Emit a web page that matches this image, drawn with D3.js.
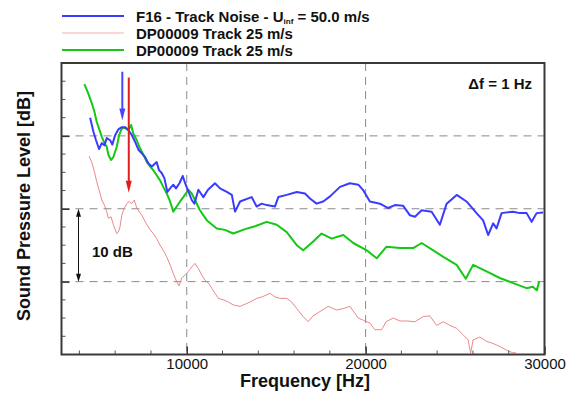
<!DOCTYPE html>
<html><head><meta charset="utf-8">
<script src="https://cdn.jsdelivr.net/npm/d3@7"></script>
<style>
html,body{margin:0;padding:0;background:#fff;}
svg{display:block;font-family:"Liberation Sans",Arial,sans-serif;}
</style></head>
<body><svg id="c" width="571" height="394"></svg>
<script>
// ---- data ----
const xTicks = [10000, 20000, 30000];
const xMinorTicks = [4000,6000,8000,12000,14000,16000,18000,22000,24000,26000,28000];
const yGrid = [40, 50, 60];
const yMinorTicks = [32.5,35,37.5,42.5,45,47.5,52.5,55,57.5,62.5,65,67.5];
const legendLabels = ["F16 - Track Noise - U", "DP00009 Track 25 m/s", "DP00009 Track 25 m/s"];

const blueFreq = [4600,4780,4930,5100,5250,5400,5530,5720,5840,6000,6180,6370,6550,6740,6930,7110,7300,7490,7670,7860,8050,8230,8320,8450,8600,8750,8920,9070,9250,9400,9590,9780,9910,10060,10280,10430,10650,10930,11190,11580,11860,12240,12520,12700,12980,13630,13910,14190,14470,14930,15120,15590,16150,16610,16890,17260,17630,18010,18570,19120,19590,19850,20240,20800,21260,21640,22100,22480,22760,23130,23690,24150,24530,25090,25640,26200,26570,26850,27130,27320,27600,28250,28620,29000,29280,29560,29920];
const blueLevel = [62.5,60.6,59.4,58.2,59.0,58.7,59.7,59.4,58.8,60.1,60.9,61.2,61.2,60.8,60.1,59.2,58.1,57.6,57.1,56.2,55.8,56.2,56.4,55.3,54.9,54.2,52.3,52.8,53.3,52.8,53.5,54.5,53.5,52.6,51.2,50.7,52.6,51.6,52.6,53.5,52.8,52.3,51.9,49.6,51.0,51.6,50.3,50.7,50.5,50.3,51.6,51.9,52.3,52.1,51.4,50.7,51.0,51.7,53.0,53.5,53.3,52.6,51.0,50.7,50.1,50.5,50.4,49.1,48.9,49.8,49.6,47.8,50.7,51.9,51.0,49.4,48.4,46.4,48.0,47.3,49.4,49.6,49.4,49.4,48.2,49.4,49.5];

const redFreq = [4540,4690,4840,4970,5100,5250,5400,5530,5620,5770,5900,6090,6180,6270,6370,6460,6650,6780,6930,7070,7210,7490,7730,7950,8130,8320,8510,8690,8880,9070,9250,9440,9570,9720,9910,10090,10280,10460,10650,10840,11020,11210,11400,11580,11770,12050,12330,12600,12980,13260,13540,13910,14210,14650,14930,15210,15590,15870,16150,16510,16790,17060,17450,17910,18380,18750,19120,19590,19870,20240,20520,20900,21140,21540,21920,22290,22760,23220,23590,23970,24340,24710,25090,25450,25730,25870,26010,26390,26760,27130,27500,27880,28250,28400];
const redLevel = [57.2,56.4,55.1,53.7,52.6,51.2,50.5,49.6,48.7,48.9,47.8,46.6,46.8,47.5,49.1,49.8,50.7,51.0,50.7,51.2,50.1,49.1,48.0,47.1,46.6,45.9,45.0,44.3,43.4,42.3,41.1,40.0,39.4,40.5,40.9,41.4,42.0,42.5,41.8,40.9,40.2,39.8,39.1,38.4,37.7,37.5,37.2,36.8,36.6,36.9,37.2,37.7,37.9,38.4,37.9,37.7,37.7,37.2,36.3,35.2,34.5,35.3,35.9,36.6,36.1,36.3,36.6,35.0,34.7,34.3,33.4,33.4,34.5,35.0,34.6,34.6,34.5,35.2,35.3,34.0,34.5,34.0,33.6,32.7,32.0,30.2,32.0,32.4,31.8,31.5,31.1,30.6,30.2,30.3];

const greenFreq = [4280,4500,4690,4840,4970,5100,5250,5400,5530,5620,5770,5900,6090,6220,6370,6550,6740,6890,7020,7210,7390,7580,7770,7950,8130,8320,8510,8690,8880,9070,9250,9440,9630,9810,10090,10280,10460,10740,11130,11680,12140,12600,13260,13820,14470,15030,15590,16150,16510,17070,17540,18100,18750,19310,20060,20620,21170,21920,22660,23130,23780,24340,25090,25600,26010,26760,27500,28250,29000,29350,29570,29700];
const greenLevel = [67.1,65.8,64.5,63.3,61.9,61.0,59.9,59.0,58.5,57.4,56.7,57.1,58.5,60.1,61.0,61.1,60.8,61.5,60.3,59.4,58.3,57.4,56.4,55.8,55.3,54.6,53.9,53.0,52.1,51.0,49.6,50.3,51.0,51.6,52.6,52.1,51.2,49.8,48.4,47.3,47.1,46.6,47.2,47.6,48.2,47.8,46.8,45.0,44.3,45.5,46.6,45.9,46.4,45.3,44.3,43.2,44.8,44.6,44.6,45.3,44.3,43.4,42.3,40.4,42.3,41.4,40.5,39.8,39.1,39.3,38.8,40.0];

// annotations (frequency, level)
const blueArrow = {f: 6400, from: 68.8, to: 62.1};
const redArrow = {f: 6760, from: 68.0, to: 52.2};
const dbArrow = {f: 3950, from: 50, to: 40};

// ---- layout ----
const svg = d3.select("#c");
const L = 61.5, R = 544.5, T = 63, B = 354.5;
const x = d3.scaleLinear().domain([3000, 30000]).range([L, R]);
const y = d3.scaleLinear().domain([30, 70]).range([B, T]);

const blue = "#3b3bff", green = "#14c814", red = "#e87a7a";

// grid
const g = svg.append("g");
g.selectAll(".vg").data(xTicks.filter(d => d < 30000)).join("line")
  .attr("x1", d => x(d)).attr("x2", d => x(d)).attr("y1", T).attr("y2", B)
  .attr("stroke", "#8a8a8a").attr("stroke-width", 1).attr("stroke-dasharray", "8,6");
g.selectAll(".hg").data(yGrid).join("line")
  .attr("x1", L).attr("x2", R).attr("y1", d => y(d)).attr("y2", d => y(d))
  .attr("stroke", "#8a8a8a").attr("stroke-width", 1).attr("stroke-dasharray", "8,6");

// series
const line = (fs, ls) => d3.line().x((d, i) => x(fs[i])).y((d, i) => y(ls[i]))(fs);
svg.append("path").attr("d", line(redFreq, redLevel)).attr("fill", "none")
  .attr("stroke", red).attr("stroke-width", 0.9).attr("stroke-linejoin", "round");
svg.append("path").attr("d", line(greenFreq, greenLevel)).attr("fill", "none")
  .attr("stroke", green).attr("stroke-width", 2).attr("stroke-linejoin", "round");
svg.append("path").attr("d", line(blueFreq, blueLevel)).attr("fill", "none")
  .attr("stroke", blue).attr("stroke-width", 2).attr("stroke-linejoin", "round");

// axes (ticks inside)
const xAxis = d3.axisBottom(x).tickValues(xTicks).tickSize(-8).tickPadding(4).tickFormat(d3.format("d"));
const ax = svg.append("g").attr("transform", `translate(0,${B})`).call(xAxis);
ax.select(".domain").remove();
ax.selectAll(".tick line").attr("stroke", "#333").attr("stroke-width", 1.5);
ax.selectAll(".tick text").attr("font-size", 15).attr("fill", "#111").attr("font-family", "Liberation Sans, Arial, sans-serif");
svg.append("g").selectAll("line").data(xMinorTicks).join("line")
  .attr("x1", d => x(d)).attr("x2", d => x(d)).attr("y1", B).attr("y2", B - 4)
  .attr("stroke", "#555").attr("stroke-width", 1);

const yAxis = d3.axisLeft(y).tickValues(yGrid).tickSize(-8).tickFormat("");
const ay = svg.append("g").attr("transform", `translate(${L},0)`).call(yAxis);
ay.select(".domain").remove();
ay.selectAll(".tick line").attr("stroke", "#333").attr("stroke-width", 1.5);
svg.append("g").selectAll("line").data(yMinorTicks).join("line")
  .attr("x1", L).attr("x2", L + 4).attr("y1", d => y(d)).attr("y2", d => y(d))
  .attr("stroke", "#555").attr("stroke-width", 1);

// frame
svg.append("rect").attr("x", L).attr("y", T).attr("width", R - L).attr("height", B - T)
  .attr("fill", "none").attr("stroke", "#3a3a3a").attr("stroke-width", 2);

// arrows
function arrow(xp, y1, y2, color, w, hl, hw) {
  svg.append("line").attr("x1", xp).attr("x2", xp).attr("y1", y1).attr("y2", y2 - hl + 1)
    .attr("stroke", color).attr("stroke-width", w);
  svg.append("path").attr("d", `M${xp - hw},${y2 - hl}L${xp + hw},${y2 - hl}L${xp},${y2}Z`).attr("fill", color);
}
arrow(x(blueArrow.f), y(blueArrow.from), y(blueArrow.to), "#4646ff", 2, 12, 3);
arrow(x(redArrow.f), y(redArrow.from), y(redArrow.to), "#e01e1e", 2, 12, 3);
// 10 dB double arrow
{
  const xp = x(dbArrow.f), y1 = y(dbArrow.from), y2 = y(dbArrow.to);
  svg.append("line").attr("x1", xp).attr("x2", xp).attr("y1", y1 + 6).attr("y2", y2 - 6)
    .attr("stroke", "#111").attr("stroke-width", 1);
  svg.append("path").attr("d", `M${xp - 2.5},${y1 + 8}L${xp + 2.5},${y1 + 8}L${xp},${y1}Z`).attr("fill", "#111");
  svg.append("path").attr("d", `M${xp - 2.5},${y2 - 8}L${xp + 2.5},${y2 - 8}L${xp},${y2}Z`).attr("fill", "#111");
}
svg.append("text").attr("x", 92).attr("y", 257).attr("font-size", 15).attr("font-weight", "bold")
  .attr("fill", "#111").text("10 dB");
svg.append("text").attr("x", 532).attr("y", 89).attr("text-anchor", "end").attr("font-size", 15)
  .attr("font-weight", "bold").attr("fill", "#111").text("\u0394f = 1 Hz");

// axis labels
svg.append("text").attr("x", 305).attr("y", 387).attr("text-anchor", "middle").attr("font-size", 18)
  .attr("font-weight", "bold").attr("fill", "#111").text("Frequency [Hz]");
svg.append("text").attr("transform", "translate(30,206) rotate(-90)").attr("text-anchor", "middle")
  .attr("font-size", 18).attr("font-weight", "bold").attr("fill", "#111").text("Sound Pressure Level [dB]");

// legend
const legColors = [blue, "#f4b0b0", green];
const legY = [16, 33, 50];
legendLabels.forEach((lab, i) => {
  svg.append("line").attr("x1", 62).attr("x2", 124).attr("y1", legY[i]).attr("y2", legY[i])
    .attr("stroke", legColors[i]).attr("stroke-width", i === 1 ? 1 : 2);
  const t = svg.append("text").attr("x", 136).attr("y", legY[i] + 5.5).attr("font-size", 15)
    .attr("font-weight", "bold").attr("fill", "#111");
  t.append("tspan").text(lab);
  if (i === 0) {
    t.append("tspan").attr("font-size", 8).attr("dy", 2.5).text("inf");
    t.append("tspan").attr("dy", -2.5).text(" = 50.0 m/s");
  }
});
</script></body></html>
